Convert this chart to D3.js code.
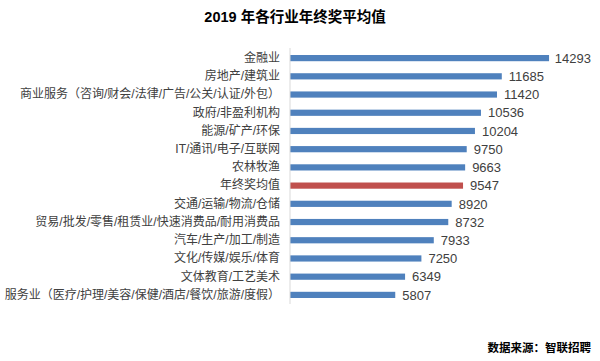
<!DOCTYPE html>
<html><head><meta charset="utf-8">
<script src="https://cdn.jsdelivr.net/npm/d3@7"></script>
<style>
html,body{margin:0;padding:0;background:#fff;}
svg{display:block;}
</style></head>
<body><svg id="chart" width="600" height="361"></svg>
<script>
const categories = [
  "金融业",
  "房地产/建筑业",
  "商业服务（咨询/财会/法律/广告/公关/认证/外包）",
  "政府/非盈利机构",
  "能源/矿产/环保",
  "IT/通讯/电子/互联网",
  "农林牧渔",
  "年终奖均值",
  "交通/运输/物流/仓储",
  "贸易/批发/零售/租赁业/快速消费品/耐用消费品",
  "汽车/生产/加工/制造",
  "文化/传媒/娱乐/体育",
  "文体教育/工艺美术",
  "服务业（医疗/护理/美容/保健/酒店/餐饮/旅游/度假）"
];
const values = [14293, 11685, 11420, 10536, 10204, 9750, 9663, 9547, 8920, 8732, 7933, 7250, 6349, 5807];
const highlight = "年终奖均值";
const title = "2019 年各行业年终奖平均值";
const source = "数据来源：智联招聘";

const svg = d3.select("#chart");
const font = "'Liberation Sans', 'Noto Sans CJK SC', sans-serif";

const x = d3.scaleLinear().domain([0, 16000]).range([290, 580]);
const y = d3.scaleBand().domain(categories).range([49, 304]).paddingInner(0.66).paddingOuter(0.33);

const data = categories.map((c, i) => ({c, v: values[i]}));

svg.append("text").attr("x", 295).attr("y", 17).attr("text-anchor", "middle")
  .attr("dominant-baseline", "central")
  .style("font-family", font).style("font-weight", "bold").style("font-size", "14.5px")
  .attr("fill", "#000").text(title);

svg.selectAll("rect.bar").data(data).join("rect").attr("class", "bar")
  .attr("x", x(0)).attr("y", d => y(d.c))
  .attr("width", d => x(d.v) - x(0)).attr("height", y.bandwidth())
  .attr("fill", d => d.c === highlight ? "#C0504D" : "#4F81BD");

// axis line
const axis = d3.axisLeft(y).tickSize(0).tickPadding(10);
const g = svg.append("g").attr("transform", `translate(${x(0)},0)`).call(axis);
g.select(".domain").attr("stroke", "#d9d9d9").attr("d", `M0,48V304`);
g.selectAll("text").style("font-family", font).style("font-size", "12px").attr("fill", "#404040");

svg.selectAll("text.val").data(data).join("text").attr("class", "val")
  .attr("x", d => x(d.v) + 7)
  .attr("y", d => y(d.c) + y.bandwidth() / 2)
  .attr("dy", "0.36em")
  .style("font-family", font).style("font-size", "13px").attr("fill", "#404040")
  .text(d => d.v)
  .each(function() {
    const w = this.getComputedTextLength();
    const cx = +this.getAttribute("x");
    if (cx + w > 591) this.setAttribute("x", 591 - w);
  });

svg.append("text").attr("x", 591).attr("y", 348).attr("text-anchor", "end")
  .attr("dominant-baseline", "central")
  .style("font-family", font).style("font-weight", "bold").style("font-size", "11.5px")
  .attr("fill", "#000").text(source);
</script></body></html>
